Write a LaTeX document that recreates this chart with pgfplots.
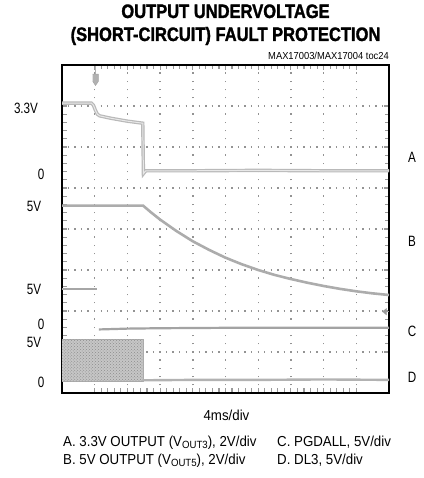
\documentclass[border=0pt]{standalone}
\usepackage{fontspec}
\setmainfont{Liberation Sans}
\newfontfamily\titlefont[FakeStretch=0.85, FakeBold=1.5]{Liberation Sans}
\newfontfamily\labfont[FakeStretch=0.78]{Liberation Sans}
\newfontfamily\capfont[FakeStretch=0.92]{Liberation Sans}
\usepackage{pgfplots}
\pgfplotsset{compat=1.18}
\usetikzlibrary{patterns}
\newcommand{\sub}[1]{\raisebox{-0.3ex}{\fontsize{10.5}{10.5}\selectfont #1}}
\begin{document}
\begin{tikzpicture}[x=1bp,y=1bp]
\useasboundingbox (-62,-85) rectangle (361,393);
\begin{axis}[at={(0,0)}, anchor=south west, scale only axis,
  width=327bp, height=328bp,
  xmin=0, xmax=10, ymin=0, ymax=8,
  xtick={1,...,9}, ytick={1,...,7},
  xticklabels={}, yticklabels={},
  minor x tick num=4, minor y tick num=4,
  major tick length=5bp, minor tick length=4.5bp,
  tick style={gray!80, line width=1.1bp},
  grid=major,
  x grid style={gray!85, line width=1.4bp, dash pattern=on 1.4bp off 6.8bp, dash phase=0.7bp},
  y grid style={gray!85, line width=1.4bp, dash pattern=on 1.4bp off 5.14bp, dash phase=0.7bp},
  axis line style={black, line width=2.6bp},
  clip=true]
% D block (switching)
\addplot[fill=gray!45, draw=gray!65, line width=0.6bp] coordinates {(0,0.29) (2.48,0.29) (2.48,1.31) (0,1.31)};
\addplot[pattern=crosshatch dots, pattern color=gray!90, draw=none] coordinates {(0,0.29) (2.48,0.29) (2.48,1.31) (0,1.31)};
% D low
\addplot[gray!60, line width=2.4bp] coordinates {(2.46,0.31) (4,0.32) (6,0.32) (8,0.33) (10,0.32)};
% C high
\addplot[gray!70, line width=2.4bp] coordinates {(0,2.54) (1.07,2.54)};
% C low
\addplot[gray!72, line width=2.2bp] coordinates {(1.13,1.55) (2,1.57) (3,1.58) (5,1.59) (7,1.59) (10,1.59)};
% B
\addplot[gray!65, line width=2.6bp] coordinates {(0,4.57) (2.48,4.57) (2.7,4.42) (3.0,4.23) (3.5,3.95) (4.0,3.70) (4.5,3.49) (5.0,3.30) (5.5,3.14) (6.0,3.00) (6.5,2.88) (7.0,2.78) (7.5,2.69) (8.0,2.61) (8.5,2.54) (9.0,2.48) (9.5,2.43) (10,2.39)};
% A
\addplot[draw=gray!55, double=gray!18, double distance=1bp, line width=1.2bp] coordinates {(0,7.07) (0.9,7.07) (0.96,7.02) (1.02,6.9) (1.08,6.8) (1.15,6.76) (1.5,6.70) (2.0,6.63) (2.47,6.58) (2.49,5.35) (2.56,5.42) (4,5.42) (6,5.43) (8,5.42) (10,5.42)};
% trigger marker
\addplot[gray!60, line width=1.5bp] coordinates {(1.025,7.97) (1.025,7.78)};
\addplot[fill=gray!60, draw=gray!70, line width=0.5bp] coordinates {(0.94,7.78) (1.11,7.78) (1.11,7.6) (1.025,7.5) (0.94,7.6)};
% ground arrow at right
\addplot[fill=gray!80, draw=gray!80, line width=0.5bp] coordinates {(9.80,1.98) (9.92,2.06) (9.92,1.90)};
\addplot[gray!80, line width=1bp] coordinates {(9.9,1.98) (10,1.98)};
\end{axis}
% titles
\node[anchor=base, font=\titlefont\bfseries\fontsize{19.5}{19.5}\selectfont] at (163.5,375) {OUTPUT UNDERVOLTAGE};
\node[anchor=base, font=\titlefont\bfseries\fontsize{19.5}{19.5}\selectfont] at (163.5,352) {(SHORT-CIRCUIT) FAULT PROTECTION};
\node[anchor=base east, inner sep=0pt, font=\capfont\fontsize{10.2}{10.2}\selectfont] at (327,333) {MAX17003/MAX17004 toc24};
% left labels
\begin{scope}[every node/.style={inner sep=0pt, font=\labfont\fontsize{15}{15}\selectfont}]
\node at (-36,285) {3.3V};
\node at (-21,219) {0};
\node at (-28,187) {5V};
\node at (-28,104) {5V};
\node at (-21,69) {0};
\node at (-28,51) {5V};
\node at (-21,10.5) {0};
\node at (350,236) {A};
\node at (350,151.5) {B};
\node at (350,62) {C};
\node at (350,16) {D};
\end{scope}
\begin{scope}[every node/.style={inner sep=0pt, font=\capfont\fontsize{14.5}{14.5}\selectfont}]
\node[anchor=base] at (164.5,-28) {4ms/div};
\node[anchor=base west] at (1,-53) {A. 3.3V OUTPUT (V\sub{OUT3}), 2V/div};
\node[anchor=base west] at (215,-53) {C. PGDALL, 5V/div};
\node[anchor=base west] at (1,-71) {B. 5V OUTPUT (V\sub{OUT5}), 2V/div};
\node[anchor=base west] at (215,-71) {D. DL3, 5V/div};
\end{scope}
\end{tikzpicture}
\end{document}
